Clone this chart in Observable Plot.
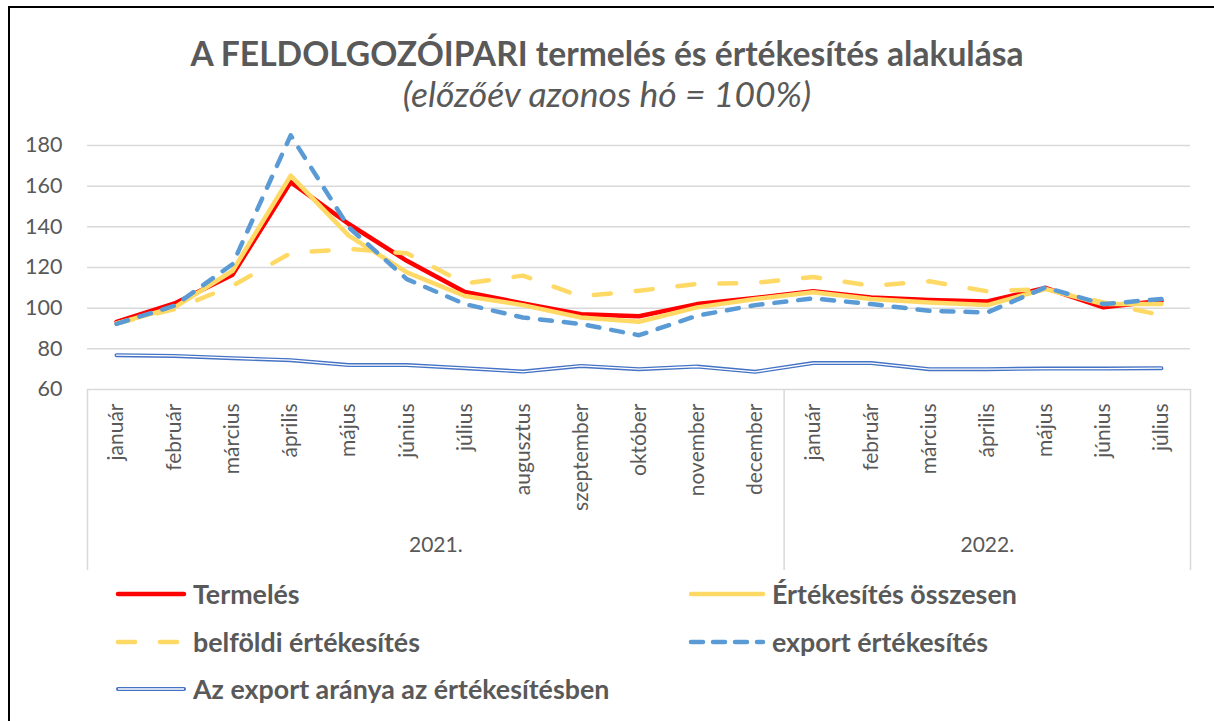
<!DOCTYPE html>
<html><head><meta charset="utf-8">
<script src="https://cdn.jsdelivr.net/npm/d3@7"></script>
<script src="https://cdn.jsdelivr.net/npm/@observablehq/plot@0.6"></script>
<style>
body{margin:0;background:#fff;font-family:Lato,"Open Sans",sans-serif;color:#595959}
#wrap{position:relative;width:1214px;height:721px;overflow:hidden;background:#fff}
#border{position:absolute;left:8px;top:6px;width:1300px;height:800px;border:2px solid #000;box-sizing:border-box}
#title{position:absolute;left:0;width:1214px;top:37px;text-align:center;font-weight:700;font-size:33.6px;line-height:33px}
#subtitle{position:absolute;left:0;width:1214px;top:77px;text-align:center;font-style:italic;font-size:35.5px;line-height:34px}
#chart{position:absolute;left:0;top:130px}
.leg{position:absolute;display:flex;align-items:center;height:34px;font-weight:700;font-size:26.8px;white-space:nowrap}
.leg svg{margin-right:6px}
</style></head>
<body><div id="wrap"><div id="border"></div>
<div id="title">A FELDOLGOZÓIPARI termelés és értékesítés alakulása</div>
<div id="subtitle">(előzőév azonos hó = 100%)</div>
<div id="chart"></div>
<div id="legend"></div>
</div>
<script>
const months = ["január","február","március","április","május","június","július","augusztus","szeptember","október","november","december","január","február","március","április","május","június","július"];
const years = ["2021.","2022."];
const yearCounts = [12, 7];
const yTicks = [60, 80, 100, 120, 140, 160, 180];

const termeles    = [93.3, 102.3, 116.5, 162.0, 141.4, 123.3, 108.0, 102.3, 97.0, 96.0, 102.0, 105.0, 108.3, 105.3, 104.0, 103.3, 110.0, 100.4, 103.6];
const ertekesites = [92.5, 100.4, 118.4, 165.2, 135.7, 117.6, 106.0, 101.5, 95.4, 93.3, 100.4, 104.5, 107.8, 104.5, 102.8, 101.5, 109.4, 102.0, 102.0];
const belfoldi    = [92.5, 99.5, 111.0, 127.1, 129.1, 127.0, 112.2, 116.0, 105.8, 108.6, 111.9, 112.4, 115.3, 111.0, 113.2, 108.3, 109.4, 102.8, 96.5];
const exportErt   = [92.3, 101.2, 121.7, 185.0, 139.8, 114.3, 102.0, 95.4, 92.2, 86.7, 96.3, 101.5, 104.8, 102.0, 98.7, 97.9, 110.2, 102.0, 104.5];
const exportArany = [76.9, 76.5, 75.4, 74.4, 72.0, 72.0, 70.5, 68.8, 71.6, 70.0, 71.3, 68.7, 73.0, 73.0, 70.0, 70.0, 70.3, 70.3, 70.5];

const seriesNames = ["Termelés","Értékesítés összesen","belföldi értékesítés","export értékesítés","Az export aránya az értékesítésben"];
const seriesValues = [termeles, ertekesites, belfoldi, exportErt, exportArany];
const seriesStyles = [
  {stroke:"#FF0000", strokeWidth:4.5},
  {stroke:"#FFD966", strokeWidth:4.5},
  {stroke:"#FFD966", strokeWidth:4.5, strokeDasharray:"17,25"},
  {stroke:"#5B9BD5", strokeWidth:4.5, strokeDasharray:"12,12"},
  {stroke:"#4472C4", strokeWidth:4, double:true}
];

const idx = months.map((m, i) => i);
const rows = vals => vals.map((v, i) => ({i, v}));

let start = 0;
const yearGroups = years.map((y, k) => {
  const g = {label: y, from: start, to: start + yearCounts[k] - 1};
  start += yearCounts[k];
  return g;
});
const dividers = [-0.5, ...yearGroups.map(g => g.to + 0.5)];

const lineMarks = [];
seriesValues.forEach((vals, k) => {
  const s = seriesStyles[k];
  lineMarks.push(Plot.line(rows(vals), {x:"i", y:"v", stroke:s.stroke, strokeWidth:s.strokeWidth,
    strokeDasharray:s.strokeDasharray, strokeLinecap:"round", strokeLinejoin:"round"}));
  if (s.double) lineMarks.push(Plot.line(rows(vals), {x:"i", y:"v", stroke:"#fff", strokeWidth:1.3, strokeLinejoin:"round"}));
});

const chart = Plot.plot({
  width:1214, height:445, marginTop:15, marginBottom:186, marginLeft:87, marginRight:24,
  x:{domain:[-0.5, 18.5], axis:null},
  y:{domain:[60, 180], axis:null},
  style:{fontFamily:"Lato, sans-serif", color:"#595959", background:"transparent", overflow:"visible"},
  marks:[
    Plot.ruleY(yTicks, {stroke:"#d9d9d9", strokeWidth:1.5}),
    Plot.ruleX(dividers, {y1:60, y2:60, insetBottom:-181, stroke:"#d9d9d9", strokeWidth:1.5}),
    Plot.axisY({ticks:yTicks, tickSize:0, tickPadding:25, fontSize:21.5, fill:"#595959", label:null}),
    Plot.axisX({ticks:idx, tickFormat:i => months[i], tickRotate:-90, tickSize:0, tickPadding:14, fontSize:21, fill:"#595959", label:null}),
    Plot.text(yearGroups, {x:g => (g.from + g.to) / 2, frameAnchor:"bottom", dy:162, text:"label", fontSize:21, fill:"#595959"}),
    ...lineMarks
  ]
});
document.getElementById("chart").append(chart);

const legPos = [
  {left:115, top:577, w:72}, {left:688, top:577, w:78},
  {left:115, top:625, w:72}, {left:688, top:625, w:78},
  {left:115, top:672, w:72}
];
const legend = document.getElementById("legend");
seriesNames.forEach((name, k) => {
  const s = seriesStyles[k], p = legPos[k];
  const d = document.createElement("div");
  d.className = "leg";
  d.style.left = p.left + "px"; d.style.top = p.top + "px";
  let sw = `<svg width="${p.w}" height="14"><line x1="3" x2="${p.w-3}" y1="7" y2="7" stroke="${s.stroke}" stroke-width="${s.strokeWidth}" stroke-linecap="round" ${s.strokeDasharray ? `stroke-dasharray="${k===2?'17,25':'12,10'}"` : ""}/>`;
  if (s.double) sw += `<line x1="3" x2="${p.w-3}" y1="7" y2="7" stroke="#fff" stroke-width="1.3"/>`;
  sw += `</svg>`;
  d.innerHTML = sw + `<span>${name}</span>`;
  legend.append(d);
});
</script>
</body></html>
